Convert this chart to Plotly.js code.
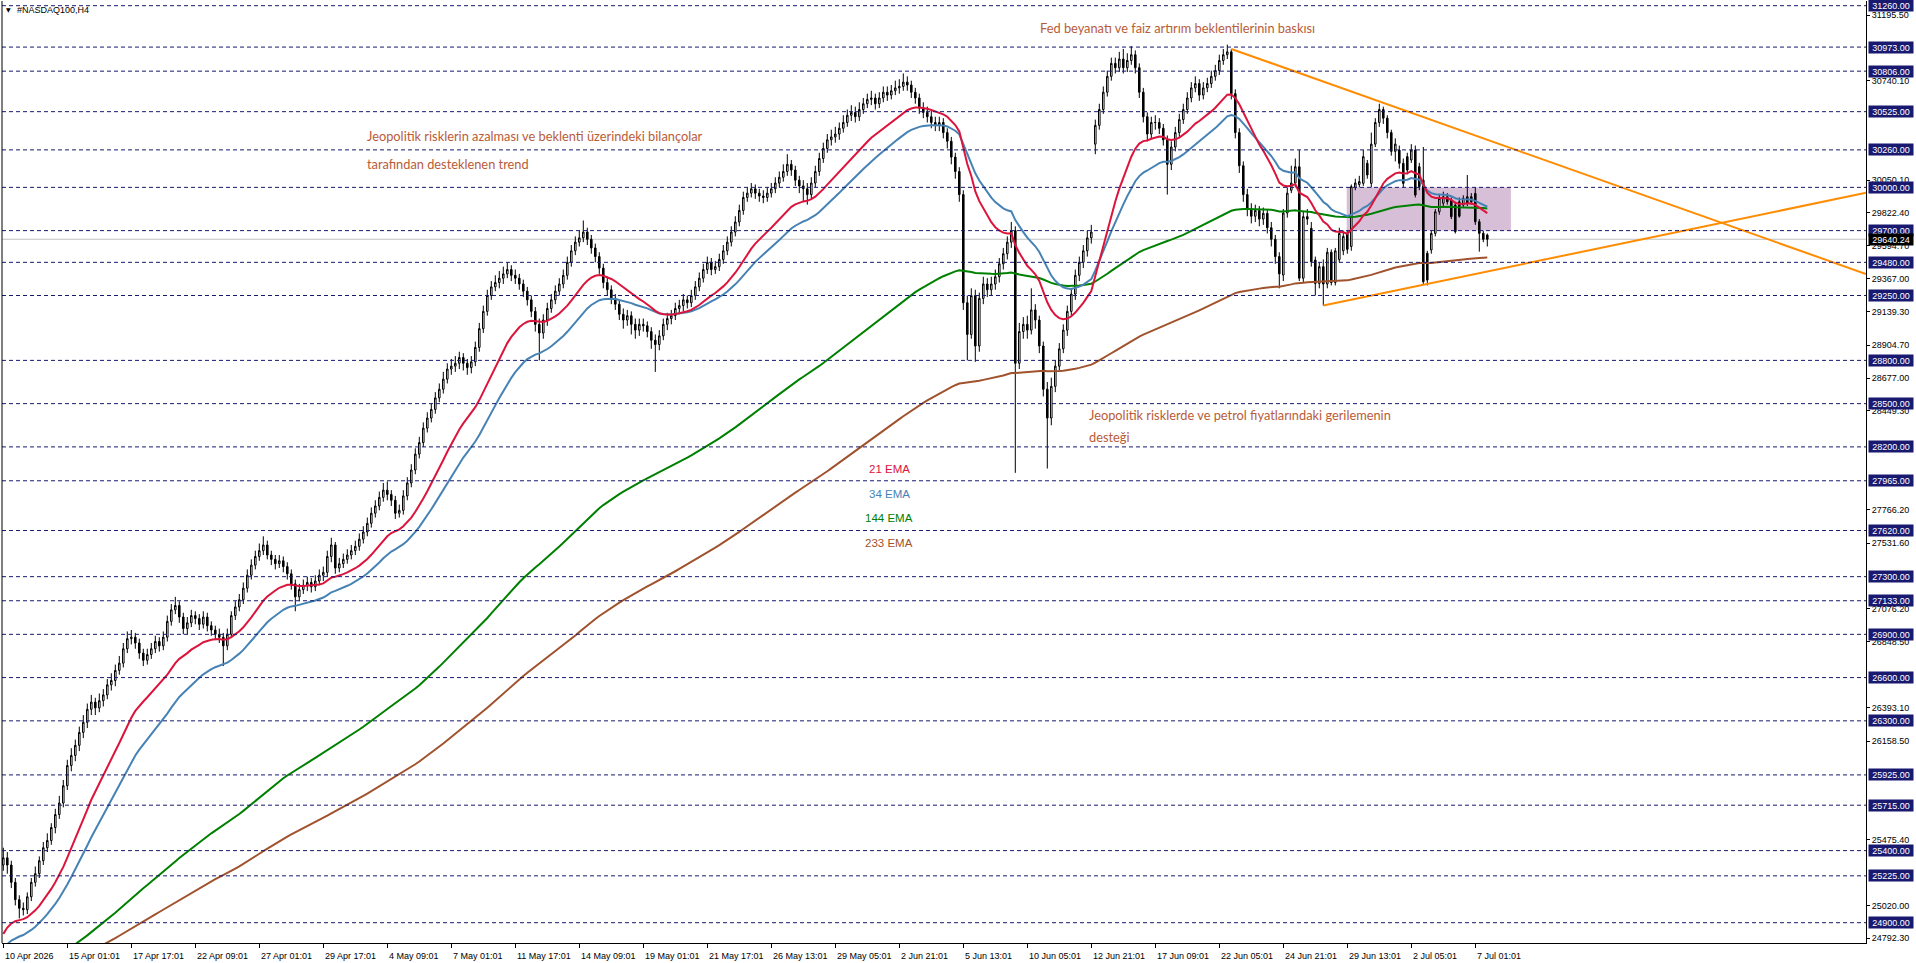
<!DOCTYPE html>
<html><head><meta charset="utf-8">
<script src="https://cdn.plot.ly/plotly-3.0.1.min.js"></script>
<style>html,body{margin:0;padding:0;background:#fff;overflow:hidden}#chart{width:1916px;height:963px}</style>
</head><body><div id="chart"></div>
<script>
// ---------------- DATA ----------------
const symbolLabel = "#NASDAQ100,H4";
const xTickLabels = ["10 Apr 2026","15 Apr 01:01","17 Apr 17:01","22 Apr 09:01","27 Apr 01:01","29 Apr 17:01","4 May 09:01","7 May 01:01","11 May 17:01","14 May 09:01","19 May 01:01","21 May 17:01","26 May 13:01","29 May 05:01","2 Jun 21:01","5 Jun 13:01","10 Jun 05:01","12 Jun 21:01","17 Jun 09:01","22 Jun 05:01","24 Jun 21:01","29 Jun 13:01","2 Jul 05:01","7 Jul 01:01"];
const barsPerTick = 16;

const opens = [
25300,25350,25300,25180,25060,25000,24990,25080,25180,25240,25330,25420,25470,25560,25650,25730,
25850,25990,26060,26130,26220,26290,26380,26430,26390,26440,26480,26550,26580,26650,26700,26800,
26870,26880,26840,26770,26720,26760,26800,26850,26820,26880,26990,27070,27100,27020,26940,26980,
27030,27010,26970,27020,26960,26930,26900,26880,26820,26900,27030,27090,27140,27220,27310,27380,
27440,27480,27520,27450,27420,27390,27410,27370,27320,27250,27160,27210,27240,27260,27230,27270,
27310,27330,27440,27520,27360,27390,27420,27450,27480,27510,27560,27610,27670,27740,27790,27850,
27900,27870,27830,27740,27760,27860,27950,28040,28150,28230,28330,28400,28460,28540,28600,28670,
28740,28760,28780,28820,28780,28750,28790,28890,29020,29140,29250,29310,29340,29370,29400,29430,
29390,29370,29330,29280,29220,29140,29050,28990,29080,29160,29220,29280,29330,29390,29480,29560,
29620,29650,29690,29640,29580,29520,29440,29340,29290,29230,29190,29120,29080,29110,29050,29010,
29050,29040,29000,28940,28910,28970,29050,29090,29110,29160,29180,29220,29200,29250,29310,29370,
29430,29480,29430,29450,29500,29560,29620,29690,29760,29840,29930,29960,29990,29960,29940,29930,
29960,29990,30030,30070,30110,30160,30120,30050,30010,29990,29950,30030,30110,30200,30270,30330,
30350,30370,30410,30450,30500,30520,30490,30540,30580,30610,30620,30580,30620,30660,30640,30670,
30690,30700,30730,30710,30660,30620,30550,30520,30490,30450,30430,30450,30380,30320,30210,30110,
29950,29200,28980,29250,28900,29230,29330,29290,29330,29380,29470,29540,29620,29700,28780,29000,
29050,29010,29150,29080,28900,28600,28400,28620,28760,28880,29010,29140,29260,29390,29480,29560,
29650,30300,30430,30540,30660,30770,30860,30830,30890,30830,30880,30920,30830,30660,30490,30370,
30450,30450,30410,30330,30160,30280,30380,30470,30540,30620,30690,30720,30640,30690,30720,30770,
30810,30880,30920,30940,30650,30380,30150,29950,29850,29800,29840,29780,29820,29720,29640,29520,
29392,29822,29980,30030,30143,29370,29797,29716,29496,29334,29450,29330,29550,29340,29500,29560,
29680,29590,30000,30020,30028,30167,30028,30300,30450,30540,30480,30380,30250,30259,30167,30213,
30190,30259,30143,30050,29543,29566,29681,29831,29890,29935,29912,29877,29900,29877,29935,29935,29958,29762,29681,29670
];
const highs = [
25420,25390,25330,25210,25090,25040,25110,25210,25290,25360,25460,25520,25590,25690,25780,25890,
26030,26110,26170,26260,26340,26420,26480,26460,26490,26520,26590,26630,26690,26750,26840,26920,
26930,26910,26870,26800,26800,26840,26890,26880,26920,27030,27110,27160,27130,27050,27020,27070,
27060,27040,27060,27050,26990,26960,26940,26910,26940,27060,27130,27180,27260,27350,27420,27480,
27530,27580,27550,27480,27450,27450,27440,27400,27350,27280,27250,27280,27300,27290,27310,27350,
27370,27480,27570,27540,27430,27460,27490,27520,27550,27600,27650,27710,27780,27830,27890,27950,
27960,27900,27860,27800,27900,27990,28080,28190,28270,28370,28440,28500,28580,28640,28720,28780,
28810,28830,28860,28850,28810,28830,28930,29060,29180,29290,29350,29390,29420,29450,29480,29460,
29430,29400,29360,29310,29250,29170,29090,29120,29200,29260,29320,29370,29430,29520,29600,29660,
29700,29770,29720,29670,29610,29550,29470,29380,29320,29260,29220,29160,29150,29140,29090,29090,
29090,29070,29030,28980,29010,29090,29130,29150,29200,29220,29260,29250,29290,29350,29410,29470,
29520,29510,29490,29540,29600,29660,29730,29800,29880,29970,30000,30030,30020,29990,29980,30000,
30030,30070,30110,30160,30230,30190,30150,30080,30050,30030,30070,30150,30240,30310,30370,30400,
30420,30450,30500,30540,30570,30560,30590,30620,30650,30670,30650,30660,30700,30700,30710,30740,
30750,30790,30770,30740,30690,30650,30590,30560,30530,30490,30490,30480,30410,30350,30240,30140,
29980,29250,29300,29290,29270,29380,29370,29380,29430,29510,29580,29660,29760,29730,29060,29100,
29110,29300,29190,29110,28930,28650,28680,28800,28920,29050,29180,29300,29430,29520,29600,29700,
29740,30470,30580,30700,30810,30900,30900,30940,30960,30930,30980,30950,30860,30690,30520,30490,
30500,30480,30440,30360,30320,30420,30510,30580,30660,30730,30770,30750,30730,30760,30810,30850,
30920,30960,30990,30960,30680,30410,30180,29990,29890,29880,29870,29860,29850,29760,29670,29550,
29850,30000,30150,30200,30259,29830,29850,29760,29520,29480,29500,29580,29570,29580,29720,29700,
29700,30020,30060,30080,30259,30190,30380,30480,30580,30560,30500,30400,30340,30290,30200,30240,
30300,30290,30170,30280,29560,29700,29850,29950,29970,29960,29930,29900,29930,29945,30086,29960,30000,29780,29700,29680
];
const lows = [
25260,25240,25140,25020,24930,24950,24960,25050,25150,25210,25300,25390,25440,25520,25620,25700,
25820,25950,26020,26090,26180,26250,26340,26340,26360,26400,26450,26510,26540,26620,26670,26770,
26830,26800,26730,26680,26690,26730,26770,26780,26790,26850,26960,27040,26980,26900,26900,26950,
26970,26930,26940,26920,26890,26860,26840,26680,26790,26880,27000,27060,27110,27190,27280,27350,
27410,27450,27420,27380,27350,27360,27330,27280,27210,27060,27130,27180,27200,27190,27200,27240,
27270,27300,27400,27320,27330,27360,27390,27420,27450,27480,27530,27580,27640,27710,27760,27820,
27830,27790,27700,27710,27730,27830,27920,28010,28120,28200,28300,28370,28430,28510,28570,28640,
28700,28720,28740,28730,28700,28710,28760,28860,28990,29110,29220,29280,29300,29330,29370,29350,
29330,29290,29240,29180,29100,29000,28800,28950,29040,29130,29190,29250,29300,29360,29450,29530,
29590,29620,29600,29540,29480,29400,29300,29250,29190,29150,29080,29020,29040,28980,28950,28970,
29000,28960,28880,28720,28870,28940,29010,29050,29080,29120,29140,29160,29170,29220,29280,29340,
29400,29390,29400,29420,29470,29530,29590,29660,29730,29810,29900,29930,29920,29900,29890,29900,
29930,29960,30000,30040,30080,30080,30010,29960,29900,29880,29920,30000,30080,30170,30240,30290,
30310,30330,30380,30420,30460,30450,30460,30510,30550,30570,30540,30550,30590,30600,30610,30640,
30650,30670,30670,30620,30580,30510,30480,30450,30410,30390,30390,30340,30270,30160,30060,29900,
29150,28800,28950,28790,28860,29190,29240,29250,29290,29340,29430,29500,29580,28020,28740,28950,
28950,28980,29020,28850,28550,28050,28350,28580,28720,28850,28970,29100,29220,29350,29440,29520,
29610,30230,30400,30510,30630,30740,30790,30800,30790,30800,30850,30790,30620,30450,30320,30340,
30400,30370,30290,29950,30120,30250,30350,30440,30510,30590,30660,30600,30610,30660,30690,30740,
30780,30850,30890,30610,30340,30100,29900,29800,29750,29760,29730,29740,29680,29590,29470,29300,
29350,29790,29960,30000,29350,29340,29740,29450,29250,29300,29180,29300,29320,29320,29480,29530,
29540,29560,29980,30000,30010,30060,30000,30280,30420,30440,30340,30220,30180,30130,30000,30090,
30170,29930,29980,29330,29320,29540,29660,29810,29870,29880,29780,29680,29790,29860,29870,29880,29740,29554,29620,29590
];
const closes = [
25350,25300,25180,25060,25000,24990,25080,25180,25240,25330,25420,25470,25560,25650,25730,25850,
25990,26060,26130,26220,26290,26380,26430,26390,26440,26480,26550,26580,26650,26700,26800,26870,
26880,26840,26770,26720,26760,26800,26850,26820,26880,26990,27070,27100,27020,26940,26980,27030,
27010,26970,27020,26960,26930,26900,26880,26820,26900,27030,27090,27140,27220,27310,27380,27440,
27480,27520,27450,27420,27390,27410,27370,27320,27250,27160,27210,27240,27260,27230,27270,27310,
27330,27440,27520,27360,27390,27420,27450,27480,27510,27560,27610,27670,27740,27790,27850,27900,
27870,27830,27740,27760,27860,27950,28040,28150,28230,28330,28400,28460,28540,28600,28670,28740,
28760,28780,28820,28780,28750,28790,28890,29020,29140,29250,29310,29340,29370,29400,29430,29390,
29370,29330,29280,29220,29140,29050,28990,29080,29160,29220,29280,29330,29390,29480,29560,29620,
29650,29690,29640,29580,29520,29440,29340,29290,29230,29190,29120,29080,29110,29050,29010,29050,
29040,29000,28940,28910,28970,29050,29090,29110,29160,29180,29220,29200,29250,29310,29370,29430,
29480,29430,29450,29500,29560,29620,29690,29760,29840,29930,29960,29990,29960,29940,29930,29960,
29990,30030,30070,30110,30160,30120,30050,30010,29990,29950,30030,30110,30200,30270,30330,30350,
30370,30410,30450,30500,30520,30490,30540,30580,30610,30620,30580,30620,30660,30640,30670,30690,
30700,30730,30710,30660,30620,30550,30520,30490,30450,30430,30450,30380,30320,30210,30110,29950,
29200,28980,29250,28900,29230,29330,29290,29330,29380,29470,29540,29620,29700,28780,29000,29050,
29010,29150,29080,28900,28600,28400,28620,28760,28880,29010,29140,29260,29390,29480,29560,29650,
29690,30430,30540,30660,30770,30860,30830,30890,30830,30880,30920,30830,30660,30490,30370,30450,
30450,30410,30330,30160,30280,30380,30470,30540,30620,30690,30720,30640,30690,30720,30770,30810,
30880,30920,30940,30650,30380,30150,29950,29850,29800,29840,29780,29820,29720,29640,29520,29400,
29822,29960,30030,30143,29370,29797,29780,29484,29334,29450,29330,29550,29340,29560,29680,29660,
29570,30005,30030,30040,30213,30086,30300,30450,30540,30480,30380,30250,30300,30167,30028,30120,
30259,29947,30005,29346,29357,29681,29831,29924,29935,29900,29797,29693,29800,29924,29889,29900,29762,29681,29640,29640.24
];

// EMA periods, colours and starting values (EMA level at the first visible bar)
const emaPeriods = [233, 144, 34, 21];
const emaColors  = ["#a0522d", "#008000", "#4682b4", "#dc143c"];
const emaSeeds   = [24500, 24530, 24680, 24770];

// horizontal levels (dashed navy lines with boxed labels)
const levels = [31260,30973,30806,30525,30260,30000,29700,29480,29250,28800,28500,28200,27965,27620,27300,27133,26900,26600,26300,25925,25715,25400,25225,24900];
// plain price-scale ticks
const scaleTicks = [31195.5,30740.1,30050.1,29822.4,29594.7,29367.0,29139.3,28904.7,28677.0,28449.3,27766.2,27531.6,27076.2,26848.5,26393.1,26158.5,25475.4,25020.0,24792.3];
const lastPrice = 29640.24;

// trend lines (two anchors each: bar index, price)
const trendDownX = [307, 344], trendDownY = [30960, 30596];
const trendUpX   = [330, 371], trendUpY   = [29181, 29417];
// consolidation box
const boxX = [335.85, 376.9], boxY = [29700, 30000];

// text notes
const notes = [
  {text:"Fed beyanatı ve faiz artırım beklentilerinin baskısı", px:1038, py:28.3},
  {text:"Jeopolitik risklerin azalması ve beklenti üzerindeki bilançolar", px:365, py:136},
  {text:"tarafından desteklenen trend", px:365, py:164},
  {text:"Jeopolitik risklerde ve petrol fiyatlarındaki gerilemenin", px:1087, py:415},
  {text:"desteği", px:1087, py:437.3}
];
const emaLabels = [
  {text:"21 EMA", color:"#dc143c", px:867, py:469.3},
  {text:"34 EMA", color:"#4682b4", px:867, py:494},
  {text:"144 EMA", color:"#008000", px:863, py:517.7},
  {text:"233 EMA", color:"#a0522d", px:863, py:543.3}
];

// ---------------- GEOMETRY ----------------
const PL = 2, PR = 1866, PT = 1, PB = 943;
const xMin = -0.325, xMax = 465.675;
const yMin = 24759.2, yMax = 31292.6;
const xp = px => (px - PL) / (PR - PL);
const yp = py => (PB - py) / (PB - PT);
const NAVY = "#191970";
const AXF = "Liberation Sans, Arial, sans-serif";

const idx = closes.map((_, i) => i);

function ema(src, n, seed) {
  const a = 2 / (n + 1);
  let e = seed;
  return src.map(v => (e = e + a * (v - e)));
}
function extend(ax, ay) {
  const s = (ay[1] - ay[0]) / (ax[1] - ax[0]);
  return {x: [ax[0], xMax], y: [ay[0], ay[0] + s * (xMax - ax[0])]};
}

const traces = [];
traces.push({
  type: "candlestick", x: idx, open: opens, high: highs, low: lows, close: closes,
  increasing: {line: {color: "#000", width: 1}, fillcolor: "#ffffff"},
  decreasing: {line: {color: "#000", width: 1}, fillcolor: "#000000"},
  whiskerwidth: 0, hoverinfo: "skip", showlegend: false
});
emaPeriods.forEach((n, k) => {
  traces.push({type: "scatter", mode: "lines", x: idx, y: ema(closes, n, emaSeeds[k]),
    line: {color: emaColors[k], width: 2}, hoverinfo: "skip", showlegend: false});
});
[extend(trendDownX, trendDownY), extend(trendUpX, trendUpY)].forEach(t => {
  traces.push({type: "scatter", mode: "lines", x: t.x, y: t.y,
    line: {color: "#ff8c00", width: 2}, hoverinfo: "skip", showlegend: false});
});

const shapes = [];
shapes.push({type: "rect", xref: "x", yref: "y", x0: boxX[0], x1: boxX[1], y0: boxY[0], y1: boxY[1],
  fillcolor: "#d8bfd8", line: {width: 0}, layer: "below"});
shapes.push({type: "line", xref: "paper", yref: "y", x0: 0, x1: 1, y0: lastPrice, y1: lastPrice,
  line: {color: "#c0c0c0", width: 1}, layer: "below"});
levels.forEach(v => shapes.push({type: "line", xref: "paper", yref: "y", x0: 0, x1: 1, y0: v, y1: v,
  line: {color: NAVY, width: 1, dash: "4px,3px"}, layer: "above"}));
shapes.push({type: "line", xref: "paper", yref: "paper", x0: 0, x1: 0, y0: 0, y1: 1,
  line: {color: "#000", width: 1}});

const annotations = [];
levels.forEach(v => annotations.push({xref: "paper", yref: "y", x: 1, y: v, xanchor: "left", yanchor: "middle",
  xshift: 2, text: v.toFixed(2), showarrow: false, bgcolor: NAVY, borderpad: 1, width: 42, height: 9,
  font: {family: AXF, size: 9, color: "#ffffff"}}));
annotations.push({xref: "paper", yref: "y", x: 1, y: lastPrice, xanchor: "left", yanchor: "middle",
  xshift: 2, text: lastPrice.toFixed(2), showarrow: false, bgcolor: "#000000", borderpad: 1, width: 42, height: 9,
  font: {family: AXF, size: 9, color: "#ffffff"}});
xTickLabels.forEach((t, k) => annotations.push({xref: "x", yref: "paper", x: k * barsPerTick, y: 0,
  xanchor: "left", yanchor: "top", xshift: 0, yshift: -6, text: t, showarrow: false,
  font: {family: AXF, size: 9, color: "#000"}}));
annotations.push({xref: "paper", yref: "paper", x: xp(4), y: yp(10), xanchor: "left", yanchor: "middle",
  text: "▼", showarrow: false, font: {family: "DejaVu Sans", size: 6, color: "#000"}});
annotations.push({xref: "paper", yref: "paper", x: xp(15), y: yp(10), xanchor: "left", yanchor: "middle",
  text: symbolLabel, showarrow: false, font: {family: AXF, size: 9, color: "#000"}});
notes.forEach(n => annotations.push({xref: "paper", yref: "paper", x: xp(n.px), y: yp(n.py),
  xanchor: "left", yanchor: "middle", text: n.text, showarrow: false,
  font: {family: "Lato, sans-serif", size: 12.8, color: "#b85c38"}}));
emaLabels.forEach(n => annotations.push({xref: "paper", yref: "paper", x: xp(n.px), y: yp(n.py),
  xanchor: "left", yanchor: "middle", text: n.text, showarrow: false,
  font: {family: AXF, size: 11.5, color: n.color}}));

const layout = {
  width: 1916, height: 963,
  margin: {l: PL, r: 1916 - PR, t: PT, b: 963 - PB, pad: 0},
  paper_bgcolor: "#ffffff", plot_bgcolor: "#ffffff",
  showlegend: false, boxgap: 0.45,
  xaxis: {range: [xMin, xMax], showgrid: false, zeroline: false, showline: true, linecolor: "#000", linewidth: 1,
    ticks: "outside", ticklen: 4, tickcolor: "#000", tickvals: xTickLabels.map((_, k) => k * barsPerTick),
    showticklabels: false, rangeslider: {visible: false}, fixedrange: true},
  yaxis: {range: [yMin, yMax], side: "right", showgrid: false, zeroline: false, showline: true,
    linecolor: "#000", linewidth: 1, ticks: "outside", ticklen: 3, tickcolor: "#000",
    tickvals: scaleTicks, ticktext: scaleTicks.map(v => v.toFixed(2)),
    tickfont: {family: AXF, size: 9, color: "#000"}, fixedrange: true},
  shapes: shapes, annotations: annotations
};
Plotly.newPlot("chart", traces, layout, {staticPlot: true, displayModeBar: false});
</script></body></html>
